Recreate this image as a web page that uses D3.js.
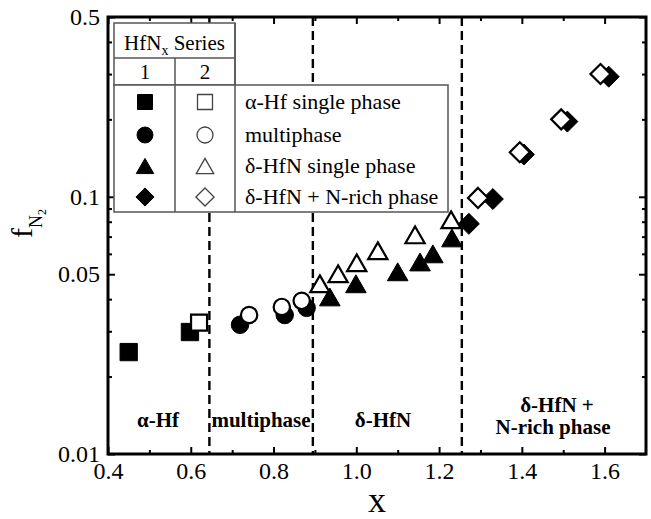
<!DOCTYPE html>
<html lang="en">
<head>
<meta charset="utf-8">
<title>f_N2 vs x</title>
<script src="https://cdnjs.cloudflare.com/ajax/libs/d3/7.8.5/d3.min.js"></script>
<style>
  body { margin: 0; background: #fff; }
  svg, svg text { font-family: "Liberation Serif", "DejaVu Serif", serif !important; fill: #000; }
</style>
</head>
<body>
<script>
// data: [x, f_N2]
const squares1  = [[0.45, 0.0249], [0.598, 0.0298]];
const squares2  = [[0.62, 0.0324]];
const circles1  = [[0.719, 0.0318], [0.827, 0.0347], [0.88, 0.0370]];
const circles2  = [[0.741, 0.0347], [0.82, 0.0373], [0.868, 0.0394]];
const triangles1 = [[0.936, 0.0408], [0.999, 0.0459], [1.10, 0.0511], [1.154, 0.0558], [1.185, 0.060], [1.231, 0.0692]];
const triangles2 = [[0.912, 0.0459], [0.956, 0.0502], [1.001, 0.0554], [1.052, 0.0617], [1.142, 0.0711], [1.229, 0.0814]];
const diamonds1 = [[1.272, 0.0785], [1.33, 0.098], [1.405, 0.146], [1.51, 0.196], [1.61, 0.293]];
const diamonds2 = [[1.294, 0.099], [1.395, 0.149], [1.495, 0.2], [1.59, 0.30]];

const phaseBounds = [0.645, 0.895, 1.255];
const xMajor = [0.4, 0.6, 0.8, 1.0, 1.2, 1.4, 1.6];
const xMinor = [0.5, 0.7, 0.9, 1.1, 1.3, 1.5];
const yMajor = [0.01, 0.05, 0.1, 0.5];
const yMinor = [0.02, 0.03, 0.04, 0.06, 0.07, 0.08, 0.09, 0.2, 0.3, 0.4];
const legendLabels = ["\u03b1-Hf single phase", "multiphase", "\u03b4-HfN single phase", "\u03b4-HfN + N-rich phase"];

const W = 651, H = 519;
const pL = 108, pR = 646, pT = 17, pB = 454;
const serif = "'Liberation Serif', 'DejaVu Serif', serif";

const svg = d3.select("body").append("svg")
  .attr("width", W).attr("height", H)
  .attr("font-family", serif);

const x = d3.scaleLinear().domain([0.4, 1.7]).range([pL, pR]);
const y = d3.scaleLog().domain([0.01, 0.5]).range([pB, pT]);

// custom marker shapes (size = edge length squared)
const triShape = {
  draw(ctx, size) {
    const r = Math.sqrt(size) / 2;
    ctx.moveTo(0, -r);
    ctx.lineTo(r * 1.15, r);
    ctx.lineTo(-r * 1.15, r);
    ctx.closePath();
  }
};
const diaShape = {
  draw(ctx, size) {
    const r = Math.sqrt(size) / 2;
    ctx.moveTo(0, -r);
    ctx.lineTo(r, 0);
    ctx.lineTo(0, r);
    ctx.lineTo(-r, 0);
    ctx.closePath();
  }
};
const sqShape = d3.symbolSquare;
const ciShape = d3.symbolCircle;

function markers(data, shape, size, filled) {
  svg.append("g").selectAll("path")
    .data(data)
    .enter()
    .append("path")
    .attr("transform", d => "translate(" + x(d[0]) + "," + y(d[1]) + ")")
    .attr("d", d3.symbol().type(shape).size(size))
    .attr("fill", filled ? "#000" : "#fff")
    .attr("stroke", "#000")
    .attr("stroke-width", filled ? 1 : 2.2);
}

// phase boundaries
svg.append("g").selectAll("line")
  .data(phaseBounds)
  .enter()
  .append("line")
  .attr("x1", d => x(d)).attr("x2", d => x(d))
  .attr("y1", pT).attr("y2", pB)
  .attr("stroke", "#000")
  .attr("stroke-width", 2.4)
  .attr("stroke-dasharray", "9,5");

// axes, ticks pointing inward
function axis(gen, tx, ty, vals, len, labels) {
  const g = svg.append("g")
    .attr("transform", "translate(" + tx + "," + ty + ")")
    .call(gen.tickValues(vals).tickSize(-len)
      .tickFormat(labels ? (d => d === 1 ? "1.0" : String(d)) : "")
      .tickPadding(labels ? 8 : 0))
    .attr("font-family", serif);
  g.select(".domain").remove();
  g.selectAll("line").attr("stroke-width", 2);
  g.selectAll("text").style("font-size", "24px").style("font-family", serif);
  return g;
}
axis(d3.axisBottom(x), 0, pB, xMajor, 7, true);
axis(d3.axisBottom(x), 0, pB, xMinor, 4, false);
axis(d3.axisTop(x), 0, pT, xMajor, 7, false);
axis(d3.axisTop(x), 0, pT, xMinor, 4, false);
axis(d3.axisLeft(y), pL, 0, yMajor, 7, true);
axis(d3.axisLeft(y), pL, 0, yMinor, 4, false);
axis(d3.axisRight(y), pR, 0, yMajor, 7, false);
axis(d3.axisRight(y), pR, 0, yMinor, 4, false);

svg.append("rect")
  .attr("x", pL).attr("y", pT)
  .attr("width", pR - pL).attr("height", pB - pT)
  .attr("fill", "none").attr("stroke", "#000").attr("stroke-width", 3);

// phase labels
const phaseText = [
  ["\u03b1-Hf", 158, 427],
  ["multiphase", 261, 427],
  ["\u03b4-HfN", 383, 427],
  ["\u03b4-HfN +", 557, 412],
  ["N-rich phase", 553, 434]
];
svg.append("g").selectAll("text")
  .data(phaseText)
  .enter()
  .append("text")
  .attr("x", d => d[1]).attr("y", d => d[2])
  .attr("text-anchor", "middle")
  .style("font-size", "21px")
  .style("font-weight", "bold")
  .style("font-family", serif)
  .text(d => d[0]);

// data: series 1 (filled) under series 2 (open)
markers(squares1, sqShape, 300, true);
markers(circles1, ciShape, 240, true);
markers(triangles1, triShape, 320, true);
markers(diamonds1, diaShape, 440, true);
markers(squares2, sqShape, 256, false);
markers(circles2, ciShape, 210, false);
markers(triangles2, triShape, 280, false);
markers(diamonds2, diaShape, 400, false);

// legend table
const lg = svg.append("g");
const lineCol = "#555";
lg.append("rect").attr("x", 114).attr("y", 23).attr("width", 121).attr("height", 62)
  .attr("fill", "#fff").attr("stroke", lineCol).attr("stroke-width", 1.5);
lg.append("rect").attr("x", 114).attr("y", 85).attr("width", 334).attr("height", 127)
  .attr("fill", "#fff").attr("stroke", lineCol).attr("stroke-width", 1.5);
lg.append("line").attr("x1", 114).attr("x2", 235).attr("y1", 58).attr("y2", 58)
  .attr("stroke", lineCol).attr("stroke-width", 1.5);
lg.append("line").attr("x1", 175).attr("x2", 175).attr("y1", 58).attr("y2", 212)
  .attr("stroke", lineCol).attr("stroke-width", 1.5);
lg.append("line").attr("x1", 235).attr("x2", 235).attr("y1", 23).attr("y2", 212)
  .attr("stroke", lineCol).attr("stroke-width", 1.5);

const head = lg.append("text").attr("x", 174.5).attr("y", 50)
  .attr("text-anchor", "middle").style("font-size", "21px").style("font-family", serif);
head.append("tspan").text("HfN");
head.append("tspan").attr("dy", 5).style("font-size", "14px").text("x");
head.append("tspan").attr("dy", -5).text(" Series");
lg.append("text").attr("x", 145).attr("y", 79).attr("text-anchor", "middle")
  .style("font-size", "21px").style("font-family", serif).text("1");
lg.append("text").attr("x", 205).attr("y", 79).attr("text-anchor", "middle")
  .style("font-size", "21px").style("font-family", serif).text("2");

const rowY = [102, 135, 166, 197];
const legShapes = [[sqShape, 225], [ciShape, 200], [triShape, 230], [diaShape, 330]];
legShapes.forEach((s, i) => {
  [[145, true], [205, false]].forEach(c => {
    lg.append("path")
      .attr("transform", "translate(" + c[0] + "," + rowY[i] + ")")
      .attr("d", d3.symbol().type(s[0]).size(s[1]))
      .attr("fill", c[1] ? "#000" : "#fff")
      .attr("stroke", c[1] ? "#000" : "#444")
      .attr("stroke-width", c[1] ? 1 : 1.3);
  });
  lg.append("text").attr("x", 245).attr("y", rowY[i] + 7)
    .style("font-size", "22px").style("font-family", serif).text(legendLabels[i]);
});

// axis titles
svg.append("text").attr("x", 377).attr("y", 512)
  .attr("text-anchor", "middle").style("font-size", "36px").style("font-family", serif).text("x");

const yt = svg.append("text").attr("transform", "translate(32,238) rotate(-90)")
  .style("font-size", "30px").style("font-family", serif);
yt.append("tspan").text("f");
yt.append("tspan").attr("dy", 10).style("font-size", "18px").text("N");
yt.append("tspan").attr("dy", 4).style("font-size", "12px").text("2");
</script>
</body>
</html>
